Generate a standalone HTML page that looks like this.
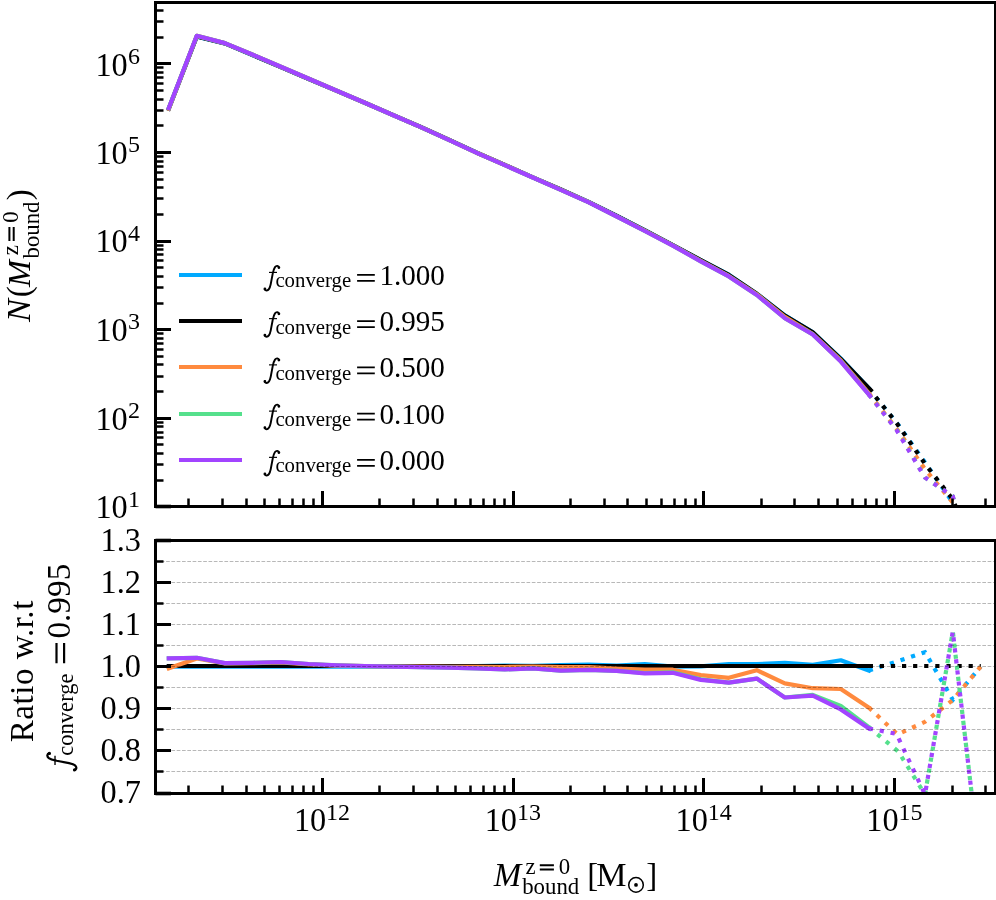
<!DOCTYPE html>
<html><head><meta charset="utf-8"><title>chart</title>
<style>html,body{margin:0;padding:0;background:#fff}svg{display:block;will-change:transform}</style></head>
<body>
<svg width="996" height="900" viewBox="0 0 996 900" font-family="'Liberation Serif', serif" fill="#000">
<rect width="996" height="900" fill="#fff"/>
<defs><clipPath id="c1"><rect x="155.5" y="2.5" width="840.0" height="504.0"/></clipPath><clipPath id="c2"><rect x="155.5" y="540.5" width="840.0" height="253.0"/></clipPath></defs>
<g clip-path="url(#c1)">
<path d="M168.8,108.7 L196.8,36.6 L224.8,43.4 L252.8,55.2 L280.8,67.1 L308.8,79.0 L336.8,90.9 L364.8,102.9 L392.8,115.0 L420.8,127.1 L448.8,139.8 L476.8,152.7 L504.8,164.9 L532.8,177.3 L560.8,189.4 L588.8,201.9 L616.8,216.0 L644.8,230.1 L672.8,245.0 L700.8,260.1 L728.8,274.7 L756.8,293.7 L784.8,315.3 L812.8,332.2 L840.8,358.5 L868.8,388.1" stroke="#00AAFF" stroke-width="4.2" fill="none" stroke-linejoin="round" stroke-linecap="square"/>
<path d="M868.8,388.8 L896.8,422.8 L925.0,462.4 L952.8,502.6 L980.8,568.3" stroke="#00AAFF" stroke-width="4.2" fill="none" stroke-linejoin="miter" stroke-dasharray="4.2 6.9" stroke-dashoffset="0"/>
<path d="M168.8,108.6 L196.8,36.5 L224.8,43.4 L252.8,55.1 L280.8,67.1 L308.8,79.0 L336.8,90.9 L364.8,102.8 L392.8,114.9 L420.8,127.0 L448.8,139.7 L476.8,152.7 L504.8,164.9 L532.8,177.3 L560.8,189.5 L588.8,202.1 L616.8,216.0 L644.8,230.3 L672.8,245.0 L700.8,260.1 L728.8,274.9 L756.8,293.8 L784.8,315.6 L812.8,332.3 L840.8,359.0 L870.8,390.1" stroke="#000000" stroke-width="4.2" fill="none" stroke-linejoin="round" stroke-linecap="square"/>
<path d="M868.8,388.4 L896.8,423.2 L924.8,463.6 L952.8,499.4 L980.8,568.3" stroke="#000000" stroke-width="4.2" fill="none" stroke-linejoin="miter" stroke-dasharray="4.2 6.9" stroke-dashoffset="0"/>
<path d="M168.8,108.9 L196.8,35.9 L224.8,43.1 L252.8,54.8 L280.8,66.7 L308.8,78.8 L336.8,90.8 L364.8,102.8 L392.8,115.0 L420.8,127.1 L448.8,139.8 L476.8,152.8 L504.8,165.0 L532.8,177.3 L560.8,189.6 L588.8,202.2 L616.8,216.3 L644.8,230.7 L672.8,245.3 L700.8,260.9 L728.8,275.9 L756.8,294.2 L784.8,316.8 L812.8,334.1 L840.8,360.4 L868.8,393.3" stroke="#FF8A3E" stroke-width="4.2" fill="none" stroke-linejoin="round" stroke-linecap="square"/>
<path d="M868.8,393.3 L897.6,430.0 L925.0,469.1 L952.8,502.6 L980.8,568.3" stroke="#FF8A3E" stroke-width="4.2" fill="none" stroke-linejoin="miter" stroke-dasharray="4.2 6.9" stroke-dashoffset="0"/>
<path d="M168.8,108.0 L196.8,35.8 L224.8,43.1 L252.8,54.8 L280.8,66.7 L308.8,78.8 L336.8,90.8 L364.8,102.8 L392.8,115.0 L420.8,127.1 L448.8,139.9 L476.8,152.9 L504.8,165.2 L532.8,177.5 L560.8,189.9 L588.8,202.4 L616.8,216.5 L644.8,231.0 L672.8,245.6 L700.8,261.3 L728.8,276.4 L756.8,295.0 L784.8,318.2 L812.8,334.4 L840.8,361.2 L868.8,394.4" stroke="#55E08C" stroke-width="4.2" fill="none" stroke-linejoin="round" stroke-linecap="square"/>
<path d="M868.8,394.4 L898.3,431.9 L925.0,477.6 L952.8,496.4 L980.8,594.2" stroke="#55E08C" stroke-width="4.2" fill="none" stroke-linejoin="miter" stroke-dasharray="4.2 6.9" stroke-dashoffset="0"/>
<path d="M168.8,108.0 L196.8,35.8 L224.8,43.1 L252.8,54.8 L280.8,66.7 L308.8,78.8 L336.8,90.8 L364.8,102.8 L392.8,115.0 L420.8,127.1 L448.8,139.9 L476.8,152.9 L504.8,165.2 L532.8,177.5 L560.8,189.9 L588.8,202.4 L616.8,216.5 L644.8,231.0 L672.8,245.6 L700.8,261.4 L728.8,276.4 L756.8,295.0 L784.8,318.2 L812.8,334.5 L840.8,361.6 L868.8,394.5" stroke="#A244FF" stroke-width="4.2" fill="none" stroke-linejoin="round" stroke-linecap="square"/>
<path d="M868.8,394.5 L896.5,430.0 L925.0,477.6 L952.8,496.4 L980.8,594.2" stroke="#A244FF" stroke-width="4.2" fill="none" stroke-linejoin="miter" stroke-dasharray="4.2 6.9" stroke-dashoffset="0"/>
</g>
<g clip-path="url(#c2)">
<path d="M168.8,666.7 L196.8,666.7 L224.8,666.7 L252.8,666.7 L280.8,666.7 L308.8,666.7 L336.8,666.7 L364.8,666.7 L392.8,666.7 L420.8,666.7 L448.8,666.7 L476.8,666.2 L504.8,665.6 L532.8,665.9 L560.8,665.2 L588.8,664.5 L616.8,665.5 L644.8,664.1 L672.8,666.6 L700.8,666.4 L728.8,664.1 L756.8,664.1 L784.8,662.8 L812.8,664.9 L840.8,660.3 L868.8,670.5" stroke="#00AAFF" stroke-width="4.2" fill="none" stroke-linejoin="round" stroke-linecap="square"/>
<path d="M868.8,670.5 L896.8,661.6 L925.0,652.2 L952.8,699.8 L980.8,666.5" stroke="#00AAFF" stroke-width="4.2" fill="none" stroke-linejoin="miter" stroke-dasharray="4.2 6.9" stroke-dashoffset="0"/>
<path d="M168.8,666.0 L196.8,666.0 L224.8,666.0 L252.8,666.0 L280.8,666.0 L308.8,666.0 L336.8,666.0 L364.8,666.0 L392.8,666.0 L420.8,666.0 L448.8,666.0 L476.8,666.0 L504.8,666.0 L532.8,666.0 L560.8,666.0 L588.8,666.0 L616.8,666.0 L644.8,666.0 L672.8,666.0 L700.8,666.0 L728.8,666.0 L756.8,666.0 L784.8,666.0 L812.8,666.0 L840.8,666.0 L870.8,666.0" stroke="#000000" stroke-width="4.2" fill="none" stroke-linejoin="round" stroke-linecap="square"/>
<path d="M868.7,666.0 L980.8,666.0" stroke="#000000" stroke-width="4.2" fill="none" stroke-linejoin="miter" stroke-dasharray="4.2 6.9" stroke-dashoffset="0"/>
<path d="M168.8,668.3 L196.8,658.5 L224.8,663.5 L252.8,663.2 L280.8,662.5 L308.8,664.4 L336.8,665.6 L364.8,666.2 L392.8,666.5 L420.8,666.7 L448.8,666.8 L476.8,666.9 L504.8,667.0 L532.8,666.6 L560.8,667.0 L588.8,667.1 L616.8,668.6 L644.8,669.7 L672.8,669.7 L700.8,675.1 L728.8,677.8 L756.8,670.2 L784.8,683.4 L812.8,688.2 L840.8,689.0 L868.8,707.5" stroke="#FF8A3E" stroke-width="4.2" fill="none" stroke-linejoin="round" stroke-linecap="square"/>
<path d="M868.8,707.5 L897.6,734.5 L925.0,721.8 L952.8,700.0 L980.8,666.5" stroke="#FF8A3E" stroke-width="4.2" fill="none" stroke-linejoin="miter" stroke-dasharray="4.2 6.9" stroke-dashoffset="0"/>
<path d="M168.8,658.3 L196.8,657.8 L224.8,663.1 L252.8,662.8 L280.8,662.0 L308.8,664.0 L336.8,665.3 L364.8,666.0 L392.8,666.6 L420.8,667.1 L448.8,667.7 L476.8,668.3 L504.8,669.4 L532.8,668.3 L560.8,670.6 L588.8,669.8 L616.8,670.9 L644.8,673.0 L672.8,672.3 L700.8,679.3 L728.8,682.6 L756.8,678.6 L784.8,697.5 L812.8,694.9 L840.8,705.9 L868.8,727.2" stroke="#55E08C" stroke-width="4.2" fill="none" stroke-linejoin="round" stroke-linecap="square"/>
<path d="M868.8,727.2 L898.3,751.5 L925.0,794.5 L952.8,631.5 L980.8,872.0" stroke="#55E08C" stroke-width="4.2" fill="none" stroke-linejoin="miter" stroke-dasharray="4.2 6.9" stroke-dashoffset="0"/>
<path d="M168.8,658.3 L196.8,657.8 L224.8,663.1 L252.8,662.8 L280.8,662.0 L308.8,664.0 L336.8,665.3 L364.8,666.0 L392.8,666.6 L420.8,667.1 L448.8,667.7 L476.8,668.3 L504.8,669.4 L532.8,668.3 L560.8,670.6 L588.8,669.8 L616.8,670.9 L644.8,673.4 L672.8,672.8 L700.8,679.9 L728.8,682.6 L756.8,678.6 L784.8,697.5 L812.8,695.7 L840.8,709.4 L868.8,728.4" stroke="#A244FF" stroke-width="4.2" fill="none" stroke-linejoin="round" stroke-linecap="square"/>
<path d="M868.8,728.4 L896.5,733.9 L925.0,794.5 L952.8,631.5 L980.8,872.0" stroke="#A244FF" stroke-width="4.2" fill="none" stroke-linejoin="miter" stroke-dasharray="4.2 6.9" stroke-dashoffset="0"/>
<line x1="155.5" x2="995.5" y1="561.50" y2="561.50" stroke="#000" stroke-opacity="0.28" stroke-width="1" stroke-dasharray="3.7 1.6"/>
<line x1="155.5" x2="995.5" y1="582.50" y2="582.50" stroke="#000" stroke-opacity="0.28" stroke-width="1" stroke-dasharray="3.7 1.6"/>
<line x1="155.5" x2="995.5" y1="603.50" y2="603.50" stroke="#000" stroke-opacity="0.28" stroke-width="1" stroke-dasharray="3.7 1.6"/>
<line x1="155.5" x2="995.5" y1="624.50" y2="624.50" stroke="#000" stroke-opacity="0.28" stroke-width="1" stroke-dasharray="3.7 1.6"/>
<line x1="155.5" x2="995.5" y1="645.50" y2="645.50" stroke="#000" stroke-opacity="0.28" stroke-width="1" stroke-dasharray="3.7 1.6"/>
<line x1="155.5" x2="995.5" y1="666.50" y2="666.50" stroke="#000" stroke-opacity="0.28" stroke-width="1" stroke-dasharray="3.7 1.6"/>
<line x1="155.5" x2="995.5" y1="687.50" y2="687.50" stroke="#000" stroke-opacity="0.28" stroke-width="1" stroke-dasharray="3.7 1.6"/>
<line x1="155.5" x2="995.5" y1="708.50" y2="708.50" stroke="#000" stroke-opacity="0.28" stroke-width="1" stroke-dasharray="3.7 1.6"/>
<line x1="155.5" x2="995.5" y1="729.50" y2="729.50" stroke="#000" stroke-opacity="0.28" stroke-width="1" stroke-dasharray="3.7 1.6"/>
<line x1="155.5" x2="995.5" y1="750.50" y2="750.50" stroke="#000" stroke-opacity="0.28" stroke-width="1" stroke-dasharray="3.7 1.6"/>
<line x1="155.5" x2="995.5" y1="771.50" y2="771.50" stroke="#000" stroke-opacity="0.28" stroke-width="1" stroke-dasharray="3.7 1.6"/>
</g>
<g stroke="#000" stroke-linecap="butt"><line x1="188.5" x2="188.5" y1="506.5" y2="498.50" stroke-width="2.5"/><line x1="222.5" x2="222.5" y1="506.5" y2="498.50" stroke-width="2.5"/><line x1="246.5" x2="246.5" y1="506.5" y2="498.50" stroke-width="2.5"/><line x1="264.5" x2="264.5" y1="506.5" y2="498.50" stroke-width="2.5"/><line x1="279.5" x2="279.5" y1="506.5" y2="498.50" stroke-width="2.5"/><line x1="292.5" x2="292.5" y1="506.5" y2="498.50" stroke-width="2.5"/><line x1="303.5" x2="303.5" y1="506.5" y2="498.50" stroke-width="2.5"/><line x1="313.5" x2="313.5" y1="506.5" y2="498.50" stroke-width="2.5"/><line x1="322.5" x2="322.5" y1="506.5" y2="491.00" stroke-width="3.0"/><line x1="379.5" x2="379.5" y1="506.5" y2="498.50" stroke-width="2.5"/><line x1="413.5" x2="413.5" y1="506.5" y2="498.50" stroke-width="2.5"/><line x1="437.5" x2="437.5" y1="506.5" y2="498.50" stroke-width="2.5"/><line x1="455.5" x2="455.5" y1="506.5" y2="498.50" stroke-width="2.5"/><line x1="470.5" x2="470.5" y1="506.5" y2="498.50" stroke-width="2.5"/><line x1="483.5" x2="483.5" y1="506.5" y2="498.50" stroke-width="2.5"/><line x1="494.5" x2="494.5" y1="506.5" y2="498.50" stroke-width="2.5"/><line x1="504.5" x2="504.5" y1="506.5" y2="498.50" stroke-width="2.5"/><line x1="513.5" x2="513.5" y1="506.5" y2="491.00" stroke-width="3.0"/><line x1="570.5" x2="570.5" y1="506.5" y2="498.50" stroke-width="2.5"/><line x1="604.5" x2="604.5" y1="506.5" y2="498.50" stroke-width="2.5"/><line x1="627.5" x2="627.5" y1="506.5" y2="498.50" stroke-width="2.5"/><line x1="646.5" x2="646.5" y1="506.5" y2="498.50" stroke-width="2.5"/><line x1="661.5" x2="661.5" y1="506.5" y2="498.50" stroke-width="2.5"/><line x1="674.5" x2="674.5" y1="506.5" y2="498.50" stroke-width="2.5"/><line x1="685.5" x2="685.5" y1="506.5" y2="498.50" stroke-width="2.5"/><line x1="695.5" x2="695.5" y1="506.5" y2="498.50" stroke-width="2.5"/><line x1="703.5" x2="703.5" y1="506.5" y2="491.00" stroke-width="3.0"/><line x1="761.5" x2="761.5" y1="506.5" y2="498.50" stroke-width="2.5"/><line x1="794.5" x2="794.5" y1="506.5" y2="498.50" stroke-width="2.5"/><line x1="818.5" x2="818.5" y1="506.5" y2="498.50" stroke-width="2.5"/><line x1="837.5" x2="837.5" y1="506.5" y2="498.50" stroke-width="2.5"/><line x1="852.5" x2="852.5" y1="506.5" y2="498.50" stroke-width="2.5"/><line x1="865.5" x2="865.5" y1="506.5" y2="498.50" stroke-width="2.5"/><line x1="876.5" x2="876.5" y1="506.5" y2="498.50" stroke-width="2.5"/><line x1="886.5" x2="886.5" y1="506.5" y2="498.50" stroke-width="2.5"/><line x1="894.5" x2="894.5" y1="506.5" y2="491.00" stroke-width="3.0"/><line x1="952.5" x2="952.5" y1="506.5" y2="498.50" stroke-width="2.5"/><line x1="985.5" x2="985.5" y1="506.5" y2="498.50" stroke-width="2.5"/><line x1="188.5" x2="188.5" y1="793.5" y2="785.50" stroke-width="2.5"/><line x1="222.5" x2="222.5" y1="793.5" y2="785.50" stroke-width="2.5"/><line x1="246.5" x2="246.5" y1="793.5" y2="785.50" stroke-width="2.5"/><line x1="264.5" x2="264.5" y1="793.5" y2="785.50" stroke-width="2.5"/><line x1="279.5" x2="279.5" y1="793.5" y2="785.50" stroke-width="2.5"/><line x1="292.5" x2="292.5" y1="793.5" y2="785.50" stroke-width="2.5"/><line x1="303.5" x2="303.5" y1="793.5" y2="785.50" stroke-width="2.5"/><line x1="313.5" x2="313.5" y1="793.5" y2="785.50" stroke-width="2.5"/><line x1="322.5" x2="322.5" y1="793.5" y2="778.00" stroke-width="3.0"/><line x1="379.5" x2="379.5" y1="793.5" y2="785.50" stroke-width="2.5"/><line x1="413.5" x2="413.5" y1="793.5" y2="785.50" stroke-width="2.5"/><line x1="437.5" x2="437.5" y1="793.5" y2="785.50" stroke-width="2.5"/><line x1="455.5" x2="455.5" y1="793.5" y2="785.50" stroke-width="2.5"/><line x1="470.5" x2="470.5" y1="793.5" y2="785.50" stroke-width="2.5"/><line x1="483.5" x2="483.5" y1="793.5" y2="785.50" stroke-width="2.5"/><line x1="494.5" x2="494.5" y1="793.5" y2="785.50" stroke-width="2.5"/><line x1="504.5" x2="504.5" y1="793.5" y2="785.50" stroke-width="2.5"/><line x1="513.5" x2="513.5" y1="793.5" y2="778.00" stroke-width="3.0"/><line x1="570.5" x2="570.5" y1="793.5" y2="785.50" stroke-width="2.5"/><line x1="604.5" x2="604.5" y1="793.5" y2="785.50" stroke-width="2.5"/><line x1="627.5" x2="627.5" y1="793.5" y2="785.50" stroke-width="2.5"/><line x1="646.5" x2="646.5" y1="793.5" y2="785.50" stroke-width="2.5"/><line x1="661.5" x2="661.5" y1="793.5" y2="785.50" stroke-width="2.5"/><line x1="674.5" x2="674.5" y1="793.5" y2="785.50" stroke-width="2.5"/><line x1="685.5" x2="685.5" y1="793.5" y2="785.50" stroke-width="2.5"/><line x1="695.5" x2="695.5" y1="793.5" y2="785.50" stroke-width="2.5"/><line x1="703.5" x2="703.5" y1="793.5" y2="778.00" stroke-width="3.0"/><line x1="761.5" x2="761.5" y1="793.5" y2="785.50" stroke-width="2.5"/><line x1="794.5" x2="794.5" y1="793.5" y2="785.50" stroke-width="2.5"/><line x1="818.5" x2="818.5" y1="793.5" y2="785.50" stroke-width="2.5"/><line x1="837.5" x2="837.5" y1="793.5" y2="785.50" stroke-width="2.5"/><line x1="852.5" x2="852.5" y1="793.5" y2="785.50" stroke-width="2.5"/><line x1="865.5" x2="865.5" y1="793.5" y2="785.50" stroke-width="2.5"/><line x1="876.5" x2="876.5" y1="793.5" y2="785.50" stroke-width="2.5"/><line x1="886.5" x2="886.5" y1="793.5" y2="785.50" stroke-width="2.5"/><line x1="894.5" x2="894.5" y1="793.5" y2="778.00" stroke-width="3.0"/><line x1="952.5" x2="952.5" y1="793.5" y2="785.50" stroke-width="2.5"/><line x1="985.5" x2="985.5" y1="793.5" y2="785.50" stroke-width="2.5"/><line x1="155.5" x2="163.50" y1="480.5" y2="480.5" stroke-width="2.5"/><line x1="155.5" x2="163.50" y1="464.5" y2="464.5" stroke-width="2.5"/><line x1="155.5" x2="163.50" y1="453.5" y2="453.5" stroke-width="2.5"/><line x1="155.5" x2="163.50" y1="444.5" y2="444.5" stroke-width="2.5"/><line x1="155.5" x2="163.50" y1="437.5" y2="437.5" stroke-width="2.5"/><line x1="155.5" x2="163.50" y1="432.5" y2="432.5" stroke-width="2.5"/><line x1="155.5" x2="163.50" y1="426.5" y2="426.5" stroke-width="2.5"/><line x1="155.5" x2="163.50" y1="422.5" y2="422.5" stroke-width="2.5"/><line x1="155.5" x2="171.00" y1="418.5" y2="418.5" stroke-width="3.0"/><line x1="155.5" x2="163.50" y1="391.5" y2="391.5" stroke-width="2.5"/><line x1="155.5" x2="163.50" y1="376.5" y2="376.5" stroke-width="2.5"/><line x1="155.5" x2="163.50" y1="364.5" y2="364.5" stroke-width="2.5"/><line x1="155.5" x2="163.50" y1="356.5" y2="356.5" stroke-width="2.5"/><line x1="155.5" x2="163.50" y1="349.5" y2="349.5" stroke-width="2.5"/><line x1="155.5" x2="163.50" y1="343.5" y2="343.5" stroke-width="2.5"/><line x1="155.5" x2="163.50" y1="338.5" y2="338.5" stroke-width="2.5"/><line x1="155.5" x2="163.50" y1="333.5" y2="333.5" stroke-width="2.5"/><line x1="155.5" x2="171.00" y1="329.5" y2="329.5" stroke-width="3.0"/><line x1="155.5" x2="163.50" y1="303.5" y2="303.5" stroke-width="2.5"/><line x1="155.5" x2="163.50" y1="287.5" y2="287.5" stroke-width="2.5"/><line x1="155.5" x2="163.50" y1="276.5" y2="276.5" stroke-width="2.5"/><line x1="155.5" x2="163.50" y1="267.5" y2="267.5" stroke-width="2.5"/><line x1="155.5" x2="163.50" y1="260.5" y2="260.5" stroke-width="2.5"/><line x1="155.5" x2="163.50" y1="254.5" y2="254.5" stroke-width="2.5"/><line x1="155.5" x2="163.50" y1="249.5" y2="249.5" stroke-width="2.5"/><line x1="155.5" x2="163.50" y1="245.5" y2="245.5" stroke-width="2.5"/><line x1="155.5" x2="171.00" y1="241.5" y2="241.5" stroke-width="3.0"/><line x1="155.5" x2="163.50" y1="214.5" y2="214.5" stroke-width="2.5"/><line x1="155.5" x2="163.50" y1="198.5" y2="198.5" stroke-width="2.5"/><line x1="155.5" x2="163.50" y1="187.5" y2="187.5" stroke-width="2.5"/><line x1="155.5" x2="163.50" y1="179.5" y2="179.5" stroke-width="2.5"/><line x1="155.5" x2="163.50" y1="172.5" y2="172.5" stroke-width="2.5"/><line x1="155.5" x2="163.50" y1="166.5" y2="166.5" stroke-width="2.5"/><line x1="155.5" x2="163.50" y1="161.5" y2="161.5" stroke-width="2.5"/><line x1="155.5" x2="163.50" y1="156.5" y2="156.5" stroke-width="2.5"/><line x1="155.5" x2="171.00" y1="152.5" y2="152.5" stroke-width="3.0"/><line x1="155.5" x2="163.50" y1="125.5" y2="125.5" stroke-width="2.5"/><line x1="155.5" x2="163.50" y1="110.5" y2="110.5" stroke-width="2.5"/><line x1="155.5" x2="163.50" y1="99.5" y2="99.5" stroke-width="2.5"/><line x1="155.5" x2="163.50" y1="90.5" y2="90.5" stroke-width="2.5"/><line x1="155.5" x2="163.50" y1="83.5" y2="83.5" stroke-width="2.5"/><line x1="155.5" x2="163.50" y1="77.5" y2="77.5" stroke-width="2.5"/><line x1="155.5" x2="163.50" y1="72.5" y2="72.5" stroke-width="2.5"/><line x1="155.5" x2="163.50" y1="67.5" y2="67.5" stroke-width="2.5"/><line x1="155.5" x2="171.00" y1="63.5" y2="63.5" stroke-width="3.0"/><line x1="155.5" x2="163.50" y1="37.5" y2="37.5" stroke-width="2.5"/><line x1="155.5" x2="163.50" y1="21.5" y2="21.5" stroke-width="2.5"/><line x1="155.5" x2="163.50" y1="10.5" y2="10.5" stroke-width="2.5"/><line x1="155.5" x2="163.50" y1="771.5" y2="771.5" stroke-width="2.5"/><line x1="155.5" x2="171.00" y1="750.5" y2="750.5" stroke-width="3.0"/><line x1="155.5" x2="163.50" y1="729.5" y2="729.5" stroke-width="2.5"/><line x1="155.5" x2="171.00" y1="708.5" y2="708.5" stroke-width="3.0"/><line x1="155.5" x2="163.50" y1="687.5" y2="687.5" stroke-width="2.5"/><line x1="155.5" x2="171.00" y1="666.5" y2="666.5" stroke-width="3.0"/><line x1="155.5" x2="163.50" y1="645.5" y2="645.5" stroke-width="2.5"/><line x1="155.5" x2="171.00" y1="624.5" y2="624.5" stroke-width="3.0"/><line x1="155.5" x2="163.50" y1="603.5" y2="603.5" stroke-width="2.5"/><line x1="155.5" x2="171.00" y1="582.5" y2="582.5" stroke-width="3.0"/><line x1="155.5" x2="163.50" y1="561.5" y2="561.5" stroke-width="2.5"/><line x1="155.5" x2="171.00" y1="506.5" y2="506.5" stroke-width="3.6"/><line x1="155.5" x2="171.00" y1="540.5" y2="540.5" stroke-width="3.6"/><line x1="155.5" x2="171.00" y1="793.5" y2="793.5" stroke-width="3.6"/></g>
<rect x="155.5" y="2.5" width="840.0" height="504.0" fill="none" stroke="#000" stroke-width="3"/>
<rect x="155.5" y="540.5" width="840.0" height="253.0" fill="none" stroke="#000" stroke-width="3"/>
<text transform="translate(95.4,518.2) scale(0.945,1)" font-size="34.2">10</text><text x="128.0" y="506.5" font-size="24.0">1</text>
<text transform="translate(95.4,429.6) scale(0.945,1)" font-size="34.2">10</text><text x="128.0" y="417.9" font-size="24.0">2</text>
<text transform="translate(95.4,341.0) scale(0.945,1)" font-size="34.2">10</text><text x="128.0" y="329.3" font-size="24.0">3</text>
<text transform="translate(95.4,252.4) scale(0.945,1)" font-size="34.2">10</text><text x="128.0" y="240.7" font-size="24.0">4</text>
<text transform="translate(95.4,163.8) scale(0.945,1)" font-size="34.2">10</text><text x="128.0" y="152.1" font-size="24.0">5</text>
<text transform="translate(95.4,76.1) scale(0.945,1)" font-size="34.2">10</text><text x="128.0" y="64.4" font-size="24.0">6</text>
<text transform="translate(293.9,830.6) scale(0.945,1)" font-size="34.2">10</text><text x="326.1" y="819.6" font-size="24.0">12</text>
<text transform="translate(484.7,830.6) scale(0.945,1)" font-size="34.2">10</text><text x="516.9" y="819.6" font-size="24.0">13</text>
<text transform="translate(675.5,830.6) scale(0.945,1)" font-size="34.2">10</text><text x="707.7" y="819.6" font-size="24.0">14</text>
<text transform="translate(866.3,830.6) scale(0.945,1)" font-size="34.2">10</text><text x="898.5" y="819.6" font-size="24.0">15</text>
<text transform="translate(140.9,550.6) scale(0.945,1)" font-size="34.2" text-anchor="end">1.3</text>
<text transform="translate(140.9,592.7) scale(0.945,1)" font-size="34.2" text-anchor="end">1.2</text>
<text transform="translate(140.9,634.9) scale(0.945,1)" font-size="34.2" text-anchor="end">1.1</text>
<text transform="translate(140.9,677.0) scale(0.945,1)" font-size="34.2" text-anchor="end">1.0</text>
<text transform="translate(140.9,719.1) scale(0.945,1)" font-size="34.2" text-anchor="end">0.9</text>
<text transform="translate(140.9,761.3) scale(0.945,1)" font-size="34.2" text-anchor="end">0.8</text>
<text transform="translate(140.9,803.4) scale(0.945,1)" font-size="34.2" text-anchor="end">0.7</text>
<line x1="179" x2="242" y1="275.00" y2="275.00" stroke="#00AAFF" stroke-width="4"/>
<g transform="translate(264.00,285.20) scale(1.0000)" fill="none" stroke="#000" stroke-linecap="round"><path d="M14.9,-17.6 C14.7,-19.6 12.3,-19.9 11.0,-18.1 C9.7,-16.3 9.3,-14.2 8.7,-11.4 L6.7,-0.9 C6.1,2.0 5.2,5.3 2.7,5.3 C1.6,5.3 0.9,4.6 0.9,3.8" stroke-width="1.9"/><path d="M5.0,-12.8 L13.0,-12.8" stroke-width="1.15" stroke-linecap="butt"/><circle cx="14.9" cy="-17.6" r="0.7" stroke-width="1.4"/><circle cx="0.9" cy="3.8" r="0.7" stroke-width="1.4"/></g>
<text x="275.4" y="287.3" font-size="20.8">converge</text>
<path d="M357.10,274.90h17.70M357.10,280.90h17.70" stroke="#000" stroke-width="1.90" fill="none"/>
<text x="379.4" y="284.9" font-size="29.1">1.000</text>
<line x1="179" x2="242" y1="321.00" y2="321.00" stroke="#000000" stroke-width="4"/>
<g transform="translate(264.00,331.44) scale(1.0000)" fill="none" stroke="#000" stroke-linecap="round"><path d="M14.9,-17.6 C14.7,-19.6 12.3,-19.9 11.0,-18.1 C9.7,-16.3 9.3,-14.2 8.7,-11.4 L6.7,-0.9 C6.1,2.0 5.2,5.3 2.7,5.3 C1.6,5.3 0.9,4.6 0.9,3.8" stroke-width="1.9"/><path d="M5.0,-12.8 L13.0,-12.8" stroke-width="1.15" stroke-linecap="butt"/><circle cx="14.9" cy="-17.6" r="0.7" stroke-width="1.4"/><circle cx="0.9" cy="3.8" r="0.7" stroke-width="1.4"/></g>
<text x="275.4" y="333.5" font-size="20.8">converge</text>
<path d="M357.10,321.14h17.70M357.10,327.14h17.70" stroke="#000" stroke-width="1.90" fill="none"/>
<text x="379.4" y="331.1" font-size="29.1">0.995</text>
<line x1="179" x2="242" y1="367.00" y2="367.00" stroke="#FF8A3E" stroke-width="4"/>
<g transform="translate(264.00,377.68) scale(1.0000)" fill="none" stroke="#000" stroke-linecap="round"><path d="M14.9,-17.6 C14.7,-19.6 12.3,-19.9 11.0,-18.1 C9.7,-16.3 9.3,-14.2 8.7,-11.4 L6.7,-0.9 C6.1,2.0 5.2,5.3 2.7,5.3 C1.6,5.3 0.9,4.6 0.9,3.8" stroke-width="1.9"/><path d="M5.0,-12.8 L13.0,-12.8" stroke-width="1.15" stroke-linecap="butt"/><circle cx="14.9" cy="-17.6" r="0.7" stroke-width="1.4"/><circle cx="0.9" cy="3.8" r="0.7" stroke-width="1.4"/></g>
<text x="275.4" y="379.8" font-size="20.8">converge</text>
<path d="M357.10,367.38h17.70M357.10,373.38h17.70" stroke="#000" stroke-width="1.90" fill="none"/>
<text x="379.4" y="377.4" font-size="29.1">0.500</text>
<line x1="179" x2="242" y1="414.00" y2="414.00" stroke="#55E08C" stroke-width="4"/>
<g transform="translate(264.00,423.92) scale(1.0000)" fill="none" stroke="#000" stroke-linecap="round"><path d="M14.9,-17.6 C14.7,-19.6 12.3,-19.9 11.0,-18.1 C9.7,-16.3 9.3,-14.2 8.7,-11.4 L6.7,-0.9 C6.1,2.0 5.2,5.3 2.7,5.3 C1.6,5.3 0.9,4.6 0.9,3.8" stroke-width="1.9"/><path d="M5.0,-12.8 L13.0,-12.8" stroke-width="1.15" stroke-linecap="butt"/><circle cx="14.9" cy="-17.6" r="0.7" stroke-width="1.4"/><circle cx="0.9" cy="3.8" r="0.7" stroke-width="1.4"/></g>
<text x="275.4" y="426.0" font-size="20.8">converge</text>
<path d="M357.10,413.62h17.70M357.10,419.62h17.70" stroke="#000" stroke-width="1.90" fill="none"/>
<text x="379.4" y="423.6" font-size="29.1">0.100</text>
<line x1="179" x2="242" y1="460.00" y2="460.00" stroke="#A244FF" stroke-width="4"/>
<g transform="translate(264.00,470.16) scale(1.0000)" fill="none" stroke="#000" stroke-linecap="round"><path d="M14.9,-17.6 C14.7,-19.6 12.3,-19.9 11.0,-18.1 C9.7,-16.3 9.3,-14.2 8.7,-11.4 L6.7,-0.9 C6.1,2.0 5.2,5.3 2.7,5.3 C1.6,5.3 0.9,4.6 0.9,3.8" stroke-width="1.9"/><path d="M5.0,-12.8 L13.0,-12.8" stroke-width="1.15" stroke-linecap="butt"/><circle cx="14.9" cy="-17.6" r="0.7" stroke-width="1.4"/><circle cx="0.9" cy="3.8" r="0.7" stroke-width="1.4"/></g>
<text x="275.4" y="472.3" font-size="20.8">converge</text>
<path d="M357.10,459.86h17.70M357.10,465.86h17.70" stroke="#000" stroke-width="1.90" fill="none"/>
<text x="379.4" y="469.9" font-size="29.1">0.000</text>
<text y="885.8" font-size="33.0"><tspan x="493.8" font-style="italic">M</tspan></text>
<text y="873.7" font-size="22.8"><tspan x="525.5">z</tspan><tspan x="558.8">0</tspan></text>
<path d="M539.80,865.30h14.10M539.80,869.60h14.10" stroke="#000" stroke-width="2.00" fill="none"/>
<text x="522.2" y="894.2" font-size="22.8">bound</text>
<text y="885.8" font-size="33.0"><tspan x="587.2">[</tspan><tspan x="596.3" font-size="34">M</tspan><tspan x="646.3">]</tspan></text>
<circle cx="636.0" cy="884.9" r="7.3" fill="none" stroke="#000" stroke-width="1.5"/><circle cx="636.0" cy="884.9" r="1.9"/>
<g transform="translate(30.2,322.3) rotate(-90)"><text y="0" font-size="33.0"><tspan x="0.2" font-size="34.5" font-style="italic">N</tspan><tspan x="25.0">(</tspan><tspan x="35.3" font-size="32.4" font-style="italic">M</tspan><tspan x="122.1">)</tspan></text><text y="-12.4" font-size="22.8"><tspan x="67.0">z</tspan><tspan x="99.5">0</tspan></text><path d="M81.30,-20.80h14.10M81.30,-16.50h14.10" stroke="#000" stroke-width="2.00" fill="none"/><text x="63.8" y="8.6" font-size="22.8">bound</text></g>
<g transform="translate(33.3,742.2) rotate(-90)"><text x="0" y="0" font-size="33.0" textLength="141.5" lengthAdjust="spacing">Ratio w.r.t</text></g>
<g transform="translate(69.8,771.0) rotate(-90)"><g transform="translate(0.00,0.30) scale(1.1786)" fill="none" stroke="#000" stroke-linecap="round"><path d="M14.9,-17.6 C14.7,-19.6 12.3,-19.9 11.0,-18.1 C9.7,-16.3 9.3,-14.2 8.7,-11.4 L6.7,-0.9 C6.1,2.0 5.2,5.3 2.7,5.3 C1.6,5.3 0.9,4.6 0.9,3.8" stroke-width="1.9"/><path d="M5.0,-12.8 L13.0,-12.8" stroke-width="1.15" stroke-linecap="butt"/><circle cx="14.9" cy="-17.6" r="0.7" stroke-width="1.4"/><circle cx="0.9" cy="3.8" r="0.7" stroke-width="1.4"/></g><text x="15.2" y="2.8" font-size="22.6">converge</text><path d="M107.80,-13.30h20.20M107.80,-5.70h20.20" stroke="#000" stroke-width="2.20" fill="none"/><text x="132.4" y="0" font-size="33.3">0.995</text></g>
</svg>
</body></html>
